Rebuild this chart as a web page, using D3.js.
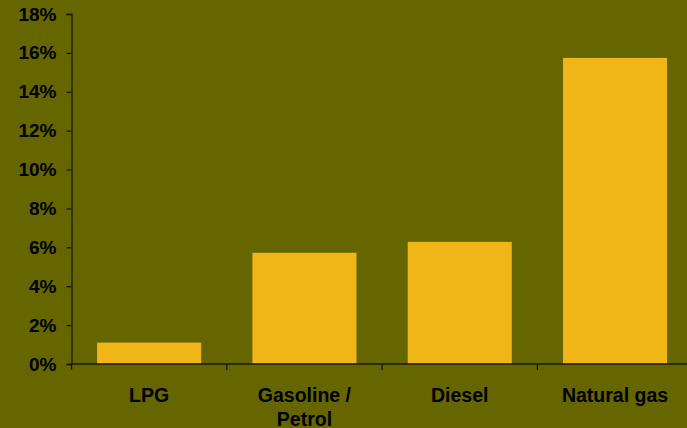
<!DOCTYPE html>
<html><head><meta charset="utf-8">
<script src="https://cdn.jsdelivr.net/npm/d3@7"></script>
<style>html,body{margin:0;padding:0;background:#666600;overflow:hidden}</style>
</head><body>
<svg id="c" width="687" height="428"></svg>
<script>
const categories = [["LPG"], ["Gasoline /", "Petrol"], ["Diesel"], ["Natural gas"]];
const values = [0.011, 0.0572, 0.0628, 0.1574];
const yTicks = [0, 0.02, 0.04, 0.06, 0.08, 0.10, 0.12, 0.14, 0.16, 0.18];

const svg = d3.select("#c");
svg.append("rect").attr("width", 687).attr("height", 428).attr("fill", "#666600");

const x0 = 71.5, step = 155.3;
const x = d3.scaleBand().domain(d3.range(categories.length))
  .range([x0, x0 + step * categories.length]).paddingInner(0.33).paddingOuter(0.165);
const y = d3.scaleLinear().domain([0, 0.18]).range([364, 14]);

const g = svg.append("g");
g.selectAll("rect.bar").data(values).enter().append("rect")
  .attr("class", "bar")
  .attr("x", (d, i) => x(i))
  .attr("width", x.bandwidth())
  .attr("y", d => y(d))
  .attr("height", d => y(0) - y(d))
  .attr("fill", "#F0B618");

const font = "'Liberation Sans', Arial, sans-serif";
// Y axis
const yAxis = g.append("g").attr("transform", `translate(${x0},0)`)
  .call(d3.axisLeft(y).tickValues(yTicks).tickFormat(d3.format(".0%")).tickSize(5).tickPadding(10));
yAxis.select(".domain").attr("stroke", "#1a1a00").attr("stroke-width", 1.3);
yAxis.selectAll(".tick line").attr("stroke", "#1a1a00").attr("stroke-width", 1.3);
yAxis.selectAll("text").attr("fill", "#000").style("font-family", font)
  .style("font-weight", "bold").style("font-size", "19px");

// X axis line and ticks at category boundaries
const boundaries = d3.range(categories.length + 1).map(i => x0 + step * i);
g.append("line").attr("x1", x0).attr("x2", 687).attr("y1", y(0)).attr("y2", y(0))
  .attr("stroke", "#1a1a00").attr("stroke-width", 1.3);
g.selectAll("line.xt").data(boundaries).enter().append("line").attr("class", "xt")
  .attr("x1", d => d).attr("x2", d => d).attr("y1", y(0)).attr("y2", y(0) + 6)
  .attr("stroke", "#1a1a00").attr("stroke-width", 1.3);

const lbl = g.selectAll("text.xl").data(categories).enter().append("text").attr("class", "xl")
  .attr("text-anchor", "middle")
  .attr("fill", "#000").style("font-family", font).style("font-weight", "bold").style("font-size", "19.5px");
lbl.each(function(d, i) {
  const t = d3.select(this);
  d.forEach((line, j) => {
    t.append("tspan").attr("x", x(i) + x.bandwidth() / 2).attr("y", 401.5 + j * 24.5).text(line);
  });
});
</script>
</body></html>
